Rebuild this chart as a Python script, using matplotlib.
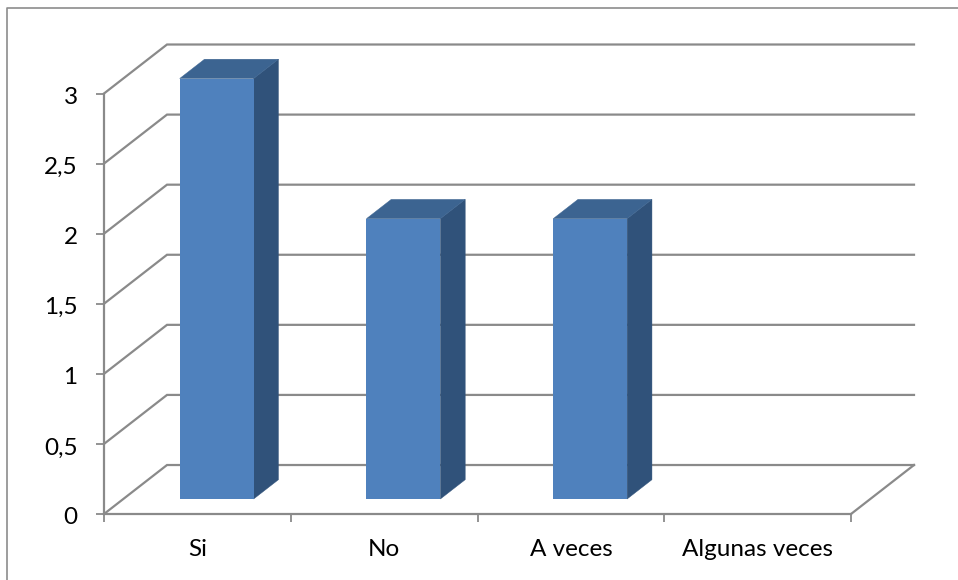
import matplotlib
matplotlib.use("Agg")
import matplotlib.pyplot as plt
from matplotlib.lines import Line2D
from matplotlib.patches import Polygon
from matplotlib.transforms import ScaledTranslation

plt.rcParams['font.family'] = ['Lato', 'DejaVu Sans']

categories = ['Si', 'No', 'A veces', 'Algunas veces']
values = [3, 2, 2, 0]
y_ticks = [0, 0.5, 1, 1.5, 2, 2.5, 3]
y_labels = ['0', '0,5', '1', '1,5', '2', '2,5', '3']

W, H = 958, 580
grey = '#8a8a8a'
front = '#4f81bd'
top = '#3c6491'
side = '#30527a'

# oblique depth of the floor, in data units
depth_x = 63 / 186.75
depth_y = 49 / 140.2
bar_w = 0.396
z_front = 0.306
z_back = 0.70

fig = plt.figure(figsize=(W / 100, H / 100), dpi=100)
ax = fig.add_axes([104 / W, 1 - 514 / H, 747 / W, 420.5 / H])
ax.set_xlim(0, 4)
ax.set_ylim(0, 3)


def proj(x, y, z):
    return (x + z * depth_x, y + z * depth_y)


# gridlines: floor/wall edge then along the back wall
for v in y_ticks:
    pts = [proj(0, v, 0), proj(0, v, 1), proj(4, v, 1)]
    ax.plot([p[0] for p in pts], [p[1] for p in pts], color=grey, lw=1.6,
            clip_on=False, zorder=1, solid_joinstyle='miter')
pts = [proj(4, 0, 0), proj(4, 0, 1)]
ax.plot([p[0] for p in pts], [p[1] for p in pts], color=grey, lw=1.6, clip_on=False, zorder=1)

for i, v in enumerate(values):
    if v == 0:
        continue
    x0 = i + 0.5 - bar_w / 2
    x1 = i + 0.5 + bar_w / 2
    bx, by = proj(i + 0.5, 0, z_front)
    ax.add_patch(Polygon([proj(x1, 0, z_front), proj(x1, 0, z_back),
                          proj(x1, v, z_back), proj(x1, v, z_front)],
                         closed=True, fc=side, ec=side, lw=0.3, zorder=3, clip_on=False))
    ax.add_patch(Polygon([proj(x0, v, z_front), proj(x1, v, z_front),
                          proj(x1, v, z_back), proj(x0, v, z_back)],
                         closed=True, fc=top, ec=top, lw=0.3, zorder=3, clip_on=False))
    ax.bar(bx, v, width=bar_w, bottom=by, color=front, zorder=4, clip_on=False)

for s in ['top', 'right']:
    ax.spines[s].set_visible(False)
for s in ['left', 'bottom']:
    ax.spines[s].set_color(grey)
    ax.spines[s].set_linewidth(1.6)
    ax.spines[s].set_zorder(2)

ax.set_yticks(y_ticks)
ax.set_yticklabels(y_labels, fontsize=17.5, color='black')
ax.tick_params(axis='y', length=6, width=1.3, color=grey, pad=13)
# labels sit a little lower than centred on the tick
nudge = ScaledTranslation(0, -2 / 100, fig.dpi_scale_trans)
for lab in ax.get_yticklabels():
    lab.set_transform(lab.get_transform() + nudge)
ax.set_xticks(range(5))
ax.set_xticklabels([])
ax.tick_params(axis='x', which='major', length=6, width=1.3, color=grey)
ax.set_xticks([0.5, 1.5, 2.5, 3.5], minor=True)
ax.set_xticklabels(categories, minor=True, fontsize=17.5, color='black')
ax.tick_params(axis='x', which='minor', length=0, pad=18)
ax.patch.set_alpha(0)

# outer chart frame, only left and top fall inside the image
fig.add_artist(Line2D([7 / W, 7 / W, 1], [0, 1 - 8 / H, 1 - 8 / H],
                      transform=fig.transFigure, color='#8c8c8c', lw=1.2))

fig.savefig('out.png', dpi=100)
